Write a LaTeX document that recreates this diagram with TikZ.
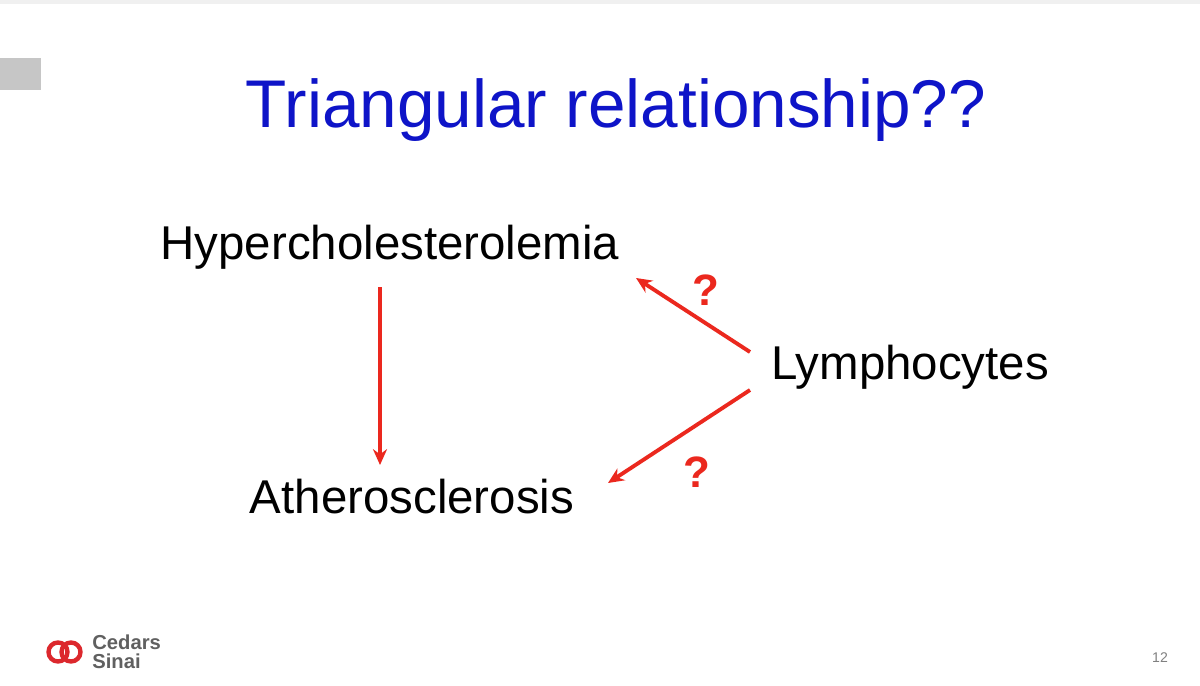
\documentclass[tikz,border=0pt]{standalone}
\usepackage{fontspec}
\setmainfont{Liberation Sans}
\usetikzlibrary{arrows.meta}
\definecolor{titleblue}{RGB}{14,20,200}
\definecolor{arrowred}{RGB}{235,40,30}
\definecolor{logored}{RGB}{220,40,45}
\tikzset{
  term/.style={font=\fontsize{27}{30}\selectfont},
  link/.style={arrowred,line width=2.2pt,-{Stealth[length=9pt,width=8pt]}},
  ask/.style={arrowred,font=\fontsize{25}{27}\selectfont\bfseries},
  brand/.style={gray!75!black,font=\fontsize{11.5}{12}\selectfont\bfseries,anchor=west,inner sep=0pt}
}
\begin{document}
\begin{tikzpicture}[x=0.02cm,y=-0.02cm]
\useasboundingbox (0,0) rectangle (1200,686);
\fill[white] (0,0) rectangle (1200,686);
\fill[gray!12] (0,0) rectangle (1200,4);
\fill[gray!45] (0,58) rectangle (41,90);
\node[titleblue,font=\fontsize{38.4}{42}\selectfont] (title) at (616,110) {Triangular relationship??};

\node[term] (hyper) at (390,247) {Hypercholesterolemia};
\node[term] (lympho) at (910,367) {Lymphocytes};
\node[term] (athero) at (412,497) {Atherosclerosis};

\coordinate (h1) at (380,287);
\coordinate (a1) at (380,465);
\coordinate (l1) at (750,352);
\coordinate (h2) at (636,278);
\coordinate (l2) at (750,390);
\coordinate (a2) at (608,483);
\draw[link] (h1) -- (a1);
\draw[link] (l1) -- (h2);
\draw[link] (l2) -- (a2);
\node[ask] (q1) at (706,290) {?};
\node[ask] (q2) at (697,472) {?};

% logo
\draw[logored,line width=2.5pt] (58,652) circle (9.5);
\draw[logored,line width=2.5pt] (71,652) circle (9.5);
\node[brand] (cedars) at (92,642) {Cedars};
\node[brand] (sinai) at (92,661) {Sinai};
\node[gray,font=\fontsize{8}{8}\selectfont] (page) at (1160,658) {12};
\end{tikzpicture}
\end{document}
